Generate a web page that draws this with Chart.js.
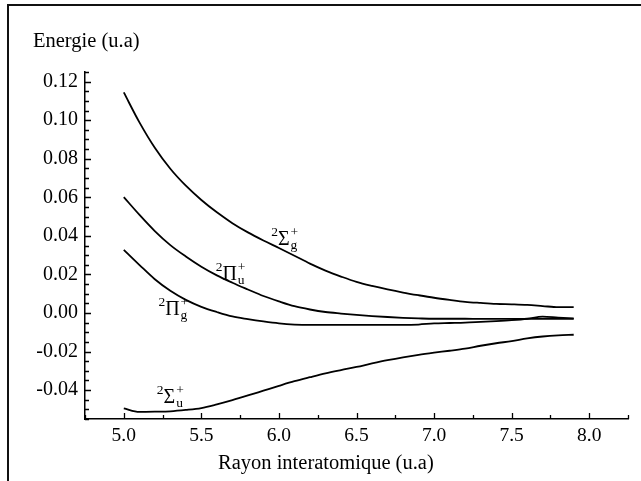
<!DOCTYPE html>
<html>
<head>
<meta charset="utf-8">
<script src="https://cdn.jsdelivr.net/npm/chart.js@4.4.1/dist/chart.umd.min.js"></script>
<style>
  body { margin: 0; background: #fff; overflow: hidden; }
  #wrap { position: relative; width: 641px; height: 481px; overflow: hidden; }
  #chart { position: absolute; left: 0; top: 0; }
  #frame {
    position: absolute; left: 7px; top: 4px; width: 700px; height: 600px;
    border-top: 2px solid #111; border-left: 2px solid #111; pointer-events: none;
  }
</style>
</head>
<body>
<div id="wrap">
  <canvas id="chart" width="641" height="481"></canvas>
  <div id="frame"></div>
</div>
<script>
// rayon interatomique (u.a)
const radius = [5.0, 5.1, 5.2, 5.3, 5.4, 5.5, 5.6, 5.7, 5.8, 5.9,
                6.0, 6.1, 6.2, 6.3, 6.4, 6.5, 6.6, 6.7, 6.8, 6.9,
                7.0, 7.1, 7.2, 7.3, 7.4, 7.5, 7.6, 7.7, 7.8, 7.9];

// energies (u.a)
const sigmaG = [0.1144, 0.0990, 0.0857, 0.0748, 0.0660, 0.0586, 0.0522, 0.0466, 0.0418, 0.0376,
                0.0337, 0.0297, 0.0256, 0.0220, 0.0189, 0.0161, 0.0140, 0.0122, 0.0106, 0.0092,
                0.0079, 0.0068, 0.0058, 0.0052, 0.0047, 0.0045, 0.0042, 0.0036, 0.0030, 0.0030];
const piU    = [0.0601, 0.0510, 0.0425, 0.0352, 0.0293, 0.0240, 0.0195, 0.0157, 0.0122, 0.0088,
                0.0060, 0.0035, 0.0018, 0.0005, -0.0003, -0.0010, -0.0016, -0.0021, -0.0025, -0.0028,
                -0.0030, -0.0030, -0.0030, -0.0031, -0.0031, -0.0031, -0.0031, -0.0031, -0.0031, -0.0031];
const piG    = [0.0327, 0.0250, 0.0175, 0.0115, 0.0068, 0.0032, 0.0005, -0.0018, -0.0032, -0.0044,
                -0.0054, -0.0060, -0.0062, -0.0062, -0.0062, -0.0062, -0.0062, -0.0062, -0.0062, -0.0060,
                -0.0054, -0.0052, -0.0050, -0.0046, -0.0042, -0.0037, -0.0030, -0.0019, -0.0024, -0.0028];
const sigmaU = [-0.0495, -0.0513, -0.0512, -0.0510, -0.0503, -0.0493, -0.0474, -0.0452, -0.0428, -0.0403,
                -0.0378, -0.0354, -0.0333, -0.0313, -0.0296, -0.0280, -0.0262, -0.0245, -0.0230, -0.0217,
                -0.0206, -0.0196, -0.0185, -0.0170, -0.0157, -0.0146, -0.0132, -0.0122, -0.0116, -0.0113];

const xTicks = [5.0, 5.5, 6.0, 6.5, 7.0, 7.5, 8.0];
const yTicks = [-0.04, -0.02, 0.00, 0.02, 0.04, 0.06, 0.08, 0.10, 0.12];

// etiquettes des etats (coordonnees en unites des axes)
const states = [
  { big: 'Σ', sub: 'g', x: 5.95, y: 0.0352 },
  { big: 'Π', sub: 'u', x: 5.592, y: 0.0171 },
  { big: 'Π', sub: 'g', x: 5.223, y: -0.0010 },
  { big: 'Σ', sub: 'u', x: 5.213, y: -0.0466 }
];

const serif = '"Liberation Serif", "Times New Roman", serif';

function pts(arr) {
  return radius.map(function (r, i) { return { x: r, y: arr[i] }; });
}

function curve(arr) {
  return {
    data: pts(arr),
    borderColor: '#000',
    borderWidth: 1.8,
    pointRadius: 0,
    fill: false,
    cubicInterpolationMode: 'monotone'
  };
}

// petits traits vers l'interieur + textes
const decor = {
  id: 'decor',
  afterDraw: function (chart) {
    const ctx = chart.ctx;
    const xs = chart.scales.x, ys = chart.scales.y;
    const a = chart.chartArea;
    ctx.save();
    ctx.strokeStyle = '#000';
    ctx.lineWidth = 1.3;
    ctx.beginPath();
    for (let v = ys.min; v <= ys.max + 1e-9; v += 0.005) {
      const py = Math.round(ys.getPixelForValue(v)) + 0.5;
      const major = yTicks.some(function (t) { return Math.abs(t - v) < 1e-6; });
      ctx.moveTo(a.left, py);
      ctx.lineTo(a.left + (major ? 6 : 4), py);
    }
    for (let v = xs.min; v <= xs.max + 1e-9; v += 0.25) {
      const px = Math.round(xs.getPixelForValue(v)) + 0.5;
      const major = xTicks.some(function (t) { return Math.abs(t - v) < 1e-6; });
      ctx.moveTo(px, a.bottom);
      ctx.lineTo(px, a.bottom - (major ? 6 : 4));
    }
    ctx.stroke();

    ctx.fillStyle = '#000';
    ctx.textBaseline = 'alphabetic';
    ctx.textAlign = 'left';
    ctx.font = '20.5px ' + serif;
    ctx.fillText('Energie (u.a)', 33, 47);
    ctx.fillText('Rayon interatomique (u.a)', 218, 469);

    states.forEach(function (s) {
      const x = xs.getPixelForValue(s.x);
      const y = ys.getPixelForValue(s.y);
      ctx.font = '13.5px ' + serif;
      ctx.fillText('2', x, y - 9);
      const w1 = ctx.measureText('2').width;
      ctx.font = '20px ' + serif;
      ctx.fillText(s.big, x + w1, y);
      const w2 = ctx.measureText(s.big).width;
      ctx.font = '13.5px ' + serif;
      ctx.fillText(s.sub, x + w1 + w2 + 1, y + 4);
      ctx.fillText('+', x + w1 + w2 + 1, y - 9);
    });
    ctx.restore();
  }
};

new Chart(document.getElementById('chart'), {
  type: 'line',
  data: {
    datasets: [curve(sigmaG), curve(piU), curve(piG), curve(sigmaU)]
  },
  options: {
    responsive: false,
    animation: false,
    layout: { padding: { left: 0, top: 72, right: 13, bottom: 0 } },
    plugins: { legend: { display: false }, tooltip: { enabled: false } },
    scales: {
      x: {
        type: 'linear',
        min: 4.75,
        max: 8.25,
        afterBuildTicks: function (s) { s.ticks = xTicks.map(function (v) { return { value: v }; }); },
        afterFit: function (s) { s.height = 62; },
        grid: { display: true, drawOnChartArea: false, drawTicks: false },
        border: { display: true, color: '#000', width: 1.5 },
        ticks: {
          padding: 5,
          maxRotation: 0,
          color: '#000',
          font: { family: serif, size: 19.5 },
          callback: function (v) { return Number(v).toFixed(1); }
        }
      },
      y: {
        type: 'linear',
        min: -0.055,
        max: 0.125,
        afterBuildTicks: function (s) { s.ticks = yTicks.map(function (v) { return { value: v }; }); },
        afterFit: function (s) { s.width = 85; },
        grid: { display: true, drawOnChartArea: false, drawTicks: false },
        border: { display: true, color: '#000', width: 1.5 },
        ticks: {
          padding: 7,
          color: '#000',
          font: { family: serif, size: 20 },
          callback: function (v) { return Number(v).toFixed(2); }
        }
      }
    }
  },
  plugins: [decor]
});
</script>
</body>
</html>
